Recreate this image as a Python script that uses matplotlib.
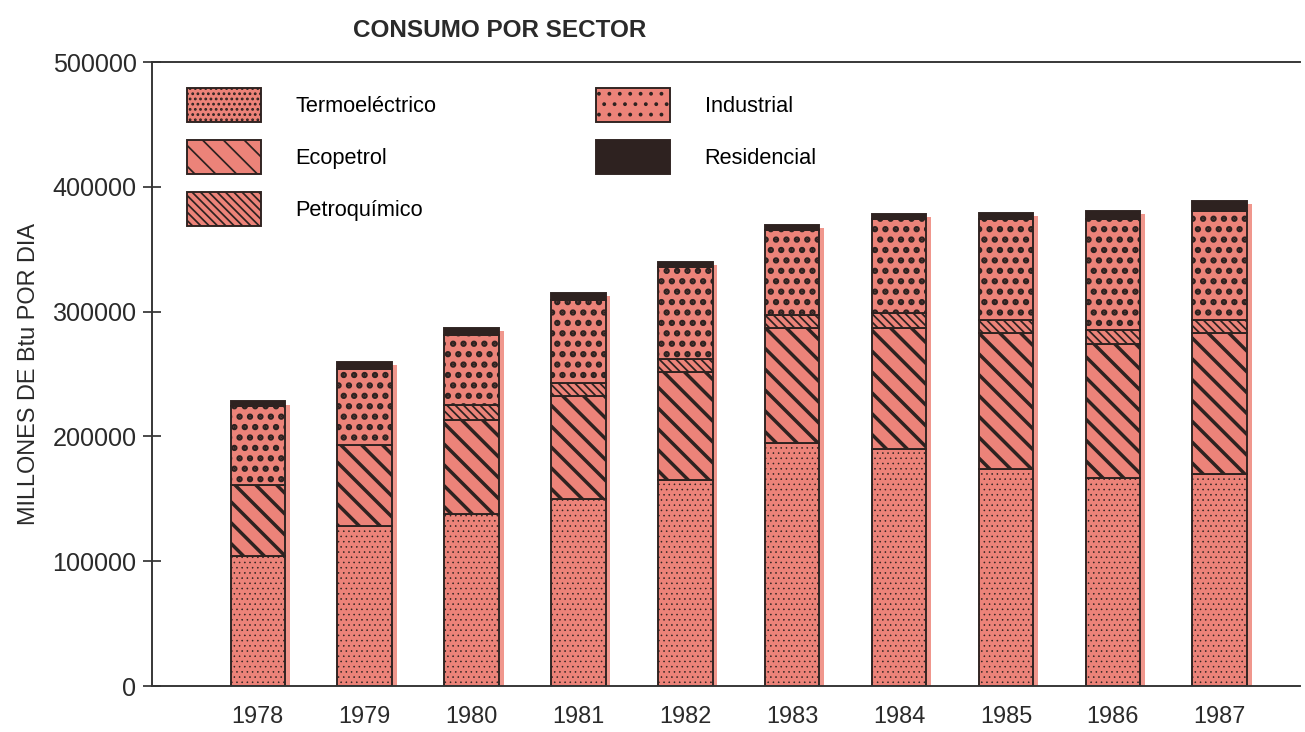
import matplotlib
matplotlib.use("Agg")
import matplotlib.pyplot as plt
import numpy as np

years = ["1978", "1979", "1980", "1981", "1982", "1983", "1984", "1985", "1986", "1987"]

# consumo por sector, millones de Btu por dia
termoelectrico = [104000, 128000, 138000, 150000, 165000, 195000, 190000, 174000, 167000, 170000]
ecopetrol = [57000, 65000, 75000, 82000, 87000, 92000, 97000, 109000, 107000, 113000]
petroquimico = [0, 0, 12000, 11000, 10000, 10000, 12000, 10000, 11000, 10000]
industrial = [63000, 61000, 56000, 66000, 74000, 68000, 75000, 81000, 89000, 88000]
residencial = [4000, 6000, 6000, 6000, 4000, 4500, 4000, 5000, 7000, 7500]

names = ["Termoeléctrico", "Ecopetrol", "Petroquímico", "Industrial", "Residencial"]

pink = "#ec8379"
dark = "#2e2220"
txt = "#2a2a2a"

plt.rcParams["font.family"] = ["Liberation Sans", "DejaVu Sans"]

fig = plt.figure(figsize=(10.44, 5.856), dpi=125)
ax = fig.add_axes([0.1165, 0.0628, 0.8795, 0.8525])

x = np.arange(len(years))
w = 0.51

series = [termoelectrico, ecopetrol, petroquimico, industrial, residencial]
styles = [
    dict(color=pink, hatch="....", hlw=0.35),
    dict(color=pink, hatch="\\\\", hlw=2.0),
    dict(color=pink, hatch="\\\\\\\\\\", hlw=1.0),
    dict(color=pink, hatch="..", hlw=2.4),
    dict(color=dark, hatch=None, hlw=1.0),
]

totals = np.sum(series, axis=0)
# offset pink print layer on the right of each column
ax.bar(x + 0.045, totals - 2500, w, color="#f0978d", edgecolor="none", zorder=1)

bottom = np.zeros(len(years))
handles = []
for vals, st, name in zip(series, styles, names):
    vals = np.array(vals, dtype=float)
    with plt.rc_context({"hatch.linewidth": st["hlw"]}):
        bars = ax.bar(x, vals, w, bottom=bottom, color=st["color"], edgecolor=dark,
                      linewidth=1.1, hatch=st["hatch"], label=name, zorder=2)
        for b in bars:
            if hasattr(b, "set_hatch_linewidth"):
                b.set_hatch_linewidth(st["hlw"])
    handles.append(bars)
    bottom += vals

ax.set_xlim(-0.99, 9.75)
ax.set_ylim(0, 500000)
ax.set_yticks(range(0, 500001, 100000))
ax.set_yticklabels([str(v) for v in range(0, 500001, 100000)], fontsize=14.5, color=txt)
ax.set_xticks(x)
ax.set_xticklabels(years, fontsize=13.5, color=txt)
ax.tick_params(axis="y", direction="inout", length=10, width=1, color="#333333", pad=4)
ax.tick_params(axis="x", length=0, pad=11)

for side in ["left", "bottom", "top"]:
    ax.spines[side].set_color("#333333")
    ax.spines[side].set_linewidth(1.1)
ax.spines["right"].set_visible(False)

ax.set_ylabel("MILLONES DE Btu POR DIA", fontsize=13.5, color=txt, labelpad=7)
fig.text(0.383, 0.958, "CONSUMO POR SECTOR", fontsize=14, fontweight="bold",
         color=txt, ha="center", va="center")

ax.legend(handles=handles, labels=names, ncol=2, loc="upper left",
          bbox_to_anchor=(0.0305, 0.958), frameon=False, borderpad=0, borderaxespad=0,
          handlelength=3.4, handleheight=2.0, handletextpad=1.6, labelspacing=0.85,
          columnspacing=7.35, prop={"size": 12.5})

fig.savefig("out.png", dpi=125, facecolor="white")
